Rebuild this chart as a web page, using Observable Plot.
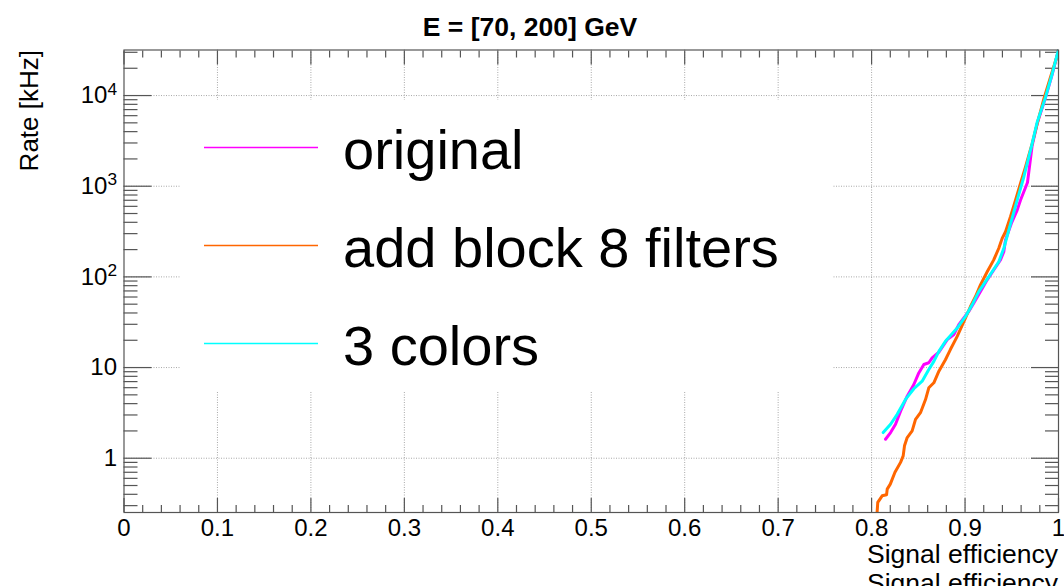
<!DOCTYPE html>
<html>
<head>
<meta charset="utf-8">
<script src="https://cdn.jsdelivr.net/npm/d3@7"></script>
<script src="https://cdn.jsdelivr.net/npm/@observablehq/plot@0.6"></script>
<style>
  html, body { margin: 0; padding: 0; background: #fff; }
  #chart svg { display: block; font-family: "Liberation Sans", Arial, Helvetica, sans-serif; }
</style>
</head>
<body>
<div id="chart"></div>
<script>
// ---- Texts -------------------------------------------------------------
const titleText = "E = [70, 200] GeV";
const xTitle = "Signal efficiency";
const yTitle = "Rate [kHz]";

// ---- Series ------------------------------------------------------------
const seriesNames = ["original", "add block 8 filters", "3 colors"];
const seriesColors = ["#ff00ff", "#ff6600", "#00ffff"];

const effOriginal = [0.8149, 0.8203, 0.8256, 0.831, 0.8381, 0.8452, 0.8505, 0.8559, 0.8612, 0.8648,
  0.872, 0.8809, 0.888, 0.8933, 0.8987, 0.904, 0.9094, 0.9165, 0.9237, 0.9307, 0.9379, 0.9415,
  0.9433, 0.950, 0.9558, 0.9593, 0.9668, 0.9718, 0.9772, 0.9861, 0.9932, 1.0];
const rateOriginal = [1.62, 1.92, 2.37, 3.31, 4.84, 6.50, 8.73, 10.8, 11.3, 12.8,
  14.8, 20.3, 23.1, 29.7, 35.2, 41.6, 51.4, 68.9, 92.7, 119, 154, 190,
  255, 400, 545, 700, 1100, 2800, 4900, 9500, 17000, 32000];

const effBlock8 = [0.8055, 0.8066, 0.8113, 0.816, 0.8167, 0.820, 0.825, 0.831, 0.8338, 0.8352,
  0.8381, 0.8434, 0.847, 0.8523, 0.8577, 0.8612, 0.8666, 0.872, 0.879, 0.8843, 0.8916, 0.9005,
  0.9058, 0.9112, 0.9165, 0.9237, 0.9307, 0.9361, 0.9397, 0.9433, 0.9486, 0.954, 0.9593, 0.9647,
  0.9718, 0.9772, 0.9843, 0.9914, 0.9986, 1.0];
const rateBlock8 = [0.22, 0.326, 0.385, 0.395, 0.456, 0.518, 0.70, 0.90, 1.06, 1.37,
  1.69, 2.0, 2.68, 3.18, 4.44, 5.98, 6.79, 9.12, 12.2, 15.8, 22.1, 35.2,
  47.1, 60.8, 81.7, 114, 154, 207, 266, 315, 460, 701, 1072, 1630,
  2943, 4886, 9200, 15900, 27500, 32000];

const eff3Colors = [0.8124, 0.8203, 0.8274, 0.8363, 0.8452, 0.8541, 0.8612, 0.8666, 0.872, 0.879,
  0.8843, 0.8916, 0.9005, 0.9076, 0.9147, 0.9219, 0.929, 0.9361, 0.9415, 0.9468, 0.9558, 0.9629,
  0.9718, 0.9772, 0.9861, 0.9932, 1.0];
const rate3Colors = [1.92, 2.37, 3.05, 4.45, 5.84, 7.08, 9.51, 11.7, 15.1, 19.5,
  22.5, 27.3, 36.6, 49.2, 68.9, 88.7, 114, 147, 207, 328, 701, 1265,
  2943, 5090, 9590, 17300, 32000];

// ---- Axes --------------------------------------------------------------
const xDomain = [0, 1];
const yDomain = [0.252, 31800];
const xMajorTicks = [0, 0.1, 0.2, 0.3, 0.4, 0.5, 0.6, 0.7, 0.8, 0.9, 1];
const xTickLabels = ["0", "0.1", "0.2", "0.3", "0.4", "0.5", "0.6", "0.7", "0.8", "0.9", "1"];
const xMinorTicks = [0.02, 0.04, 0.06, 0.08, 0.12, 0.14, 0.16, 0.18, 0.22, 0.24, 0.26, 0.28,
  0.32, 0.34, 0.36, 0.38, 0.42, 0.44, 0.46, 0.48, 0.52, 0.54, 0.56, 0.58, 0.62, 0.64, 0.66, 0.68,
  0.72, 0.74, 0.76, 0.78, 0.82, 0.84, 0.86, 0.88, 0.92, 0.94, 0.96, 0.98];
const yMajorTicks = [1, 10, 100, 1000, 10000];
const yTickLabels = ["1", "10", "10^2", "10^3", "10^4"];
const yMinorTicks = [0.3, 0.4, 0.5, 0.6, 0.7, 0.8, 0.9,
  2, 3, 4, 5, 6, 7, 8, 9,
  20, 30, 40, 50, 60, 70, 80, 90,
  200, 300, 400, 500, 600, 700, 800, 900,
  2000, 3000, 4000, 5000, 6000, 7000, 8000, 9000,
  20000, 30000];

// long-format table for Plot
const curves = [
  ...effOriginal.map((e, i) => ({series: seriesNames[0], eff: e, rate: rateOriginal[i]})),
  ...effBlock8.map((e, i) => ({series: seriesNames[1], eff: e, rate: rateBlock8[i]})),
  ...eff3Colors.map((e, i) => ({series: seriesNames[2], eff: e, rate: rate3Colors[i]}))
];

const W = 1064, H = 586;
const axisColor = "#555";
const gridStyle = {stroke: "#a8a8a8", strokeOpacity: 1, strokeWidth: 1, strokeDasharray: "1,1.5"};
const tickStyle = {stroke: axisColor, strokeWidth: 1.2, fill: "none", label: null};
const labelFont = 24;

const chart = Plot.plot({
  width: W,
  height: H,
  marginLeft: 123.5,
  marginRight: 6,
  marginTop: 49.5,
  marginBottom: 74,
  style: {background: "#fff", color: "#000", fontFamily: "Liberation Sans, Arial, sans-serif"},
  x: {domain: xDomain},
  y: {type: "log", domain: yDomain},
  color: {domain: seriesNames, range: seriesColors},
  marks: [
    // dotted grid at the major ticks
    Plot.gridX(xMajorTicks.slice(1, -1), gridStyle),
    Plot.gridY(yMajorTicks, gridStyle),

    // inward ticks on all four sides
    Plot.axisX(xMajorTicks, {...tickStyle, anchor: "bottom", tickSize: -14}),
    Plot.axisX(xMinorTicks, {...tickStyle, anchor: "bottom", tickSize: -7}),
    Plot.axisX(xMajorTicks, {...tickStyle, anchor: "top", tickSize: -14}),
    Plot.axisX(xMinorTicks, {...tickStyle, anchor: "top", tickSize: -7}),
    Plot.axisY(yMajorTicks, {...tickStyle, anchor: "left", tickSize: -28}),
    Plot.axisY(yMinorTicks, {...tickStyle, anchor: "left", tickSize: -14}),
    Plot.axisY(yMajorTicks, {...tickStyle, anchor: "right", tickSize: -28}),
    Plot.axisY(yMinorTicks, {...tickStyle, anchor: "right", tickSize: -14}),

    // tick labels
    Plot.axisX(xMajorTicks, {anchor: "bottom", tickSize: 0, tickPadding: 6, stroke: "none",
      fill: "#000", fontSize: labelFont, label: null,
      tickFormat: (d) => xTickLabels[xMajorTicks.indexOf(d)]}),
    Plot.axisY(yMajorTicks, {anchor: "left", tickSize: 0, tickPadding: 7, stroke: "none",
      fill: "#000", fontSize: labelFont, label: null,
      tickFormat: (d) => yTickLabels[yMajorTicks.indexOf(d)]}),

    // efficiency curves
    Plot.line(curves, {x: "eff", y: "rate", z: "series", stroke: "series",
      strokeWidth: 3, strokeLinejoin: "round", clip: true}),

    Plot.frame({stroke: axisColor, strokeWidth: 1.2})
  ]
});

const svg = d3.select(chart);

// exponents on the log-axis labels
svg.selectAll('g[aria-label="y-axis tick label"] text').each(function () {
  const t = d3.select(this);
  const s = t.text();
  if (s.includes("^")) {
    const [base, exp] = s.split("^");
    t.text(base);
    t.append("tspan").attr("dy", "-0.5em").attr("font-size", "0.72em").text(exp);
  }
});

// title and axis titles
svg.append("text").attr("x", 530).attr("y", 36).attr("text-anchor", "middle")
  .attr("font-size", 26.5).attr("font-weight", "bold").attr("fill", "#000").text(titleText);
svg.append("text").attr("x", 1058).attr("y", 563).attr("text-anchor", "end")
  .attr("font-size", 26.5).attr("fill", "#000").text(xTitle);
svg.append("text").attr("x", 1058).attr("y", 592).attr("text-anchor", "end")
  .attr("font-size", 26.5).attr("fill", "#000").text(xTitle);
svg.append("text").attr("transform", "translate(38,50) rotate(-90)").attr("text-anchor", "end")
  .attr("font-size", 26).attr("fill", "#000").text(yTitle);

// legend box over the empty part of the frame
const legend = svg.append("g");
legend.append("rect").attr("x", 181).attr("y", 100).attr("width", 652).attr("height", 291).attr("fill", "#fff");
const legendRows = [147.5, 245.5, 343.5];
seriesNames.forEach((name, i) => {
  legend.append("line").attr("x1", 204).attr("x2", 318)
    .attr("y1", legendRows[i]).attr("y2", legendRows[i])
    .attr("stroke", seriesColors[i]).attr("stroke-width", 1.6);
  legend.append("text").attr("x", 343).attr("y", legendRows[i] + 21)
    .attr("text-anchor", "start")
    .attr("font-size", 56).attr("fill", "#000").text(name);
});

document.getElementById("chart").append(chart);
</script>
</body>
</html>
